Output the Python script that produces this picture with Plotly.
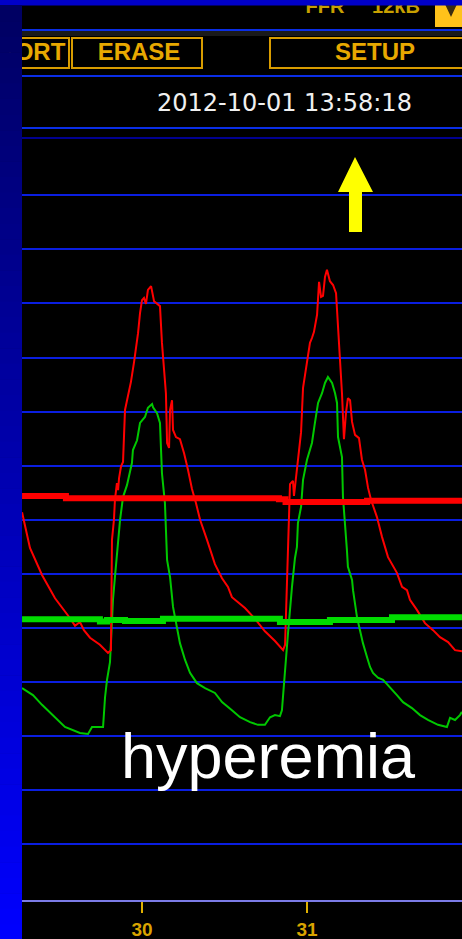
import plotly.graph_objects as go

# ---------------- data (time in s, pressure in mmHg) ----------------
t_pa = [29.273, 29.321, 29.394, 29.473, 29.564, 29.594, 29.624, 29.648, 29.685, 29.745,
        29.794, 29.812, 29.818, 29.830, 29.836, 29.842, 29.848, 29.855, 29.861, 29.873,
        29.885, 29.897, 29.915, 29.933, 29.952, 29.970, 29.976, 29.988, 30.000, 30.012,
        30.024, 30.036, 30.055, 30.073, 30.097, 30.109, 30.121, 30.133, 30.145, 30.152,
        30.164, 30.170, 30.182, 30.188, 30.206, 30.230, 30.255, 30.279, 30.303, 30.327,
        30.352, 30.394, 30.442, 30.485, 30.521, 30.545, 30.582, 30.624, 30.685, 30.745,
        30.806, 30.855, 30.867, 30.879, 30.891, 30.897, 30.909, 30.915, 30.921, 30.933,
        30.939, 30.964, 30.976, 31.000, 31.018, 31.030, 31.042, 31.061, 31.067, 31.073,
        31.085, 31.097, 31.109, 31.121, 31.139, 31.158, 31.176, 31.188, 31.200, 31.212,
        31.224, 31.236, 31.248, 31.261, 31.273, 31.291, 31.315, 31.333, 31.352, 31.370,
        31.388, 31.424, 31.455, 31.491, 31.545, 31.576, 31.606, 31.624, 31.667, 31.715,
        31.764, 31.806, 31.855, 31.897, 31.939]
pa = [71.4, 64.8, 59.8, 55.5, 51.8, 50.4, 51.1, 49.6, 48.2, 46.9,
      45.4, 45.9, 66.3, 70.0, 73.7, 75.9, 76.8, 75.5, 77.7, 79.9,
      80.7, 90.3, 93.1, 95.5, 99.2, 102.9, 104.5, 108.2, 110.6, 111.0,
      109.9, 112.5, 113.2, 110.4, 109.9, 109.5, 102.7, 98.2, 93.4, 84.2,
      83.3, 90.3, 92.1, 86.6, 85.3, 84.9, 82.3, 79.2, 75.7, 73.1,
      70.0, 66.3, 61.8, 59.2, 57.6, 55.7, 54.8, 53.7, 51.7, 49.4,
      47.6, 45.9, 46.9, 57.6, 71.8, 76.6, 77.0, 77.2, 74.4, 77.4,
      79.8, 86.2, 94.4, 99.5, 102.7, 103.6, 104.7, 107.9, 111.9, 114.0,
      111.2, 111.4, 114.9, 116.2, 114.1, 113.4, 111.9, 105.8, 100.8, 93.4,
      84.9, 89.7, 92.5, 92.1, 88.1, 85.7, 85.1, 81.1, 79.2, 75.9,
      73.7, 70.5, 66.8, 63.1, 60.2, 57.6, 57.0, 55.2, 53.3, 50.9,
      49.6, 48.3, 47.4, 45.9, 45.7]

t_pd = [29.273, 29.339, 29.394, 29.473, 29.533, 29.624, 29.673, 29.697, 29.764, 29.776,
        29.788, 29.806, 29.824, 29.836, 29.848, 29.867, 29.885, 29.909, 29.939, 29.945,
        29.970, 29.988, 30.018, 30.036, 30.061, 30.067, 30.091, 30.109, 30.121, 30.127,
        30.139, 30.152, 30.170, 30.188, 30.212, 30.230, 30.261, 30.291, 30.333, 30.382,
        30.442, 30.485, 30.545, 30.594, 30.655, 30.703, 30.745, 30.776, 30.806, 30.836,
        30.848, 30.861, 30.873, 30.885, 30.909, 30.927, 30.939, 30.945, 30.964, 30.976,
        31.000, 31.030, 31.048, 31.067, 31.091, 31.109, 31.127, 31.152, 31.170, 31.182,
        31.188, 31.212, 31.218, 31.230, 31.242, 31.248, 31.273, 31.279, 31.291, 31.303,
        31.321, 31.339, 31.364, 31.382, 31.400, 31.430, 31.461, 31.503, 31.545, 31.582,
        31.636, 31.685, 31.733, 31.794, 31.848, 31.867, 31.897, 31.927, 31.939]
pd_ = [38.9, 37.6, 35.8, 33.5, 31.7, 30.6, 30.4, 31.7, 31.7, 37.2,
       40.4, 43.7, 55.2, 59.4, 63.9, 70.0, 74.2, 76.4, 80.5, 82.9,
       84.7, 87.9, 89.0, 90.7, 91.4, 90.8, 89.7, 87.9, 78.6, 76.8,
       73.1, 62.6, 59.4, 53.9, 50.2, 47.2, 44.1, 41.7, 39.8, 38.9,
       38.0, 36.3, 34.8, 33.5, 32.6, 32.1, 32.1, 33.5, 33.9, 33.7,
       34.8, 40.4, 44.6, 49.1, 57.6, 62.9, 65.0, 69.4, 72.4, 77.4,
       81.1, 84.2, 87.9, 91.6, 93.4, 95.3, 96.4, 95.3, 93.4, 91.6,
       85.3, 81.6, 74.2, 70.0, 64.4, 61.3, 58.9, 57.0, 54.6, 52.0,
       49.6, 47.2, 44.6, 42.8, 41.7, 40.8, 40.4, 38.9, 37.6, 36.3,
       35.2, 33.9, 33.0, 32.1, 31.7, 33.4, 33.0, 33.9, 34.5]

t_pa_mean = [29.273, 29.539, 30.830, 30.870, 31.364, 31.939]
pa_mean = [74.4, 74.0, 73.8, 73.3, 73.5, 73.5]

t_pd_mean = [29.273, 29.745, 29.788, 29.897, 30.127, 30.836, 31.139, 31.515, 31.939]
pd_mean = [51.6, 51.2, 51.5, 51.3, 51.7, 51.1, 51.5, 52.0, 52.0]

tick_vals = [30, 31]
tick_text = ["30", "31"]
grid_vals = [10, 20, 30, 40, 50, 60, 70, 80, 90, 100, 110, 120, 130]

# ---------------- geometry helpers (decorations only) ----------------
W, H = 462, 939
ML, MB = 22, 39
PW, PH = W - ML, H - MB


def X(px):  # pixel -> paper x
    return (px - ML) / PW


def Y(py):  # pixel -> paper y
    return (PH - py) / PH


# axis scale: 165 px per second (30 s at px 142), 5.41 px per mmHg (0 at py 898.5)
def T(px):
    return 30 + (px - 142) / 165.0


def V(py):
    return (898.5 - py) / 5.41


fig = go.Figure()

# thin waveforms
fig.add_trace(go.Scatter(x=t_pd, y=pd_, mode="lines", line=dict(color="#00c800", width=2),
                         hoverinfo="skip", showlegend=False))
fig.add_trace(go.Scatter(x=t_pa, y=pa, mode="lines", line=dict(color="#ff0000", width=2),
                         hoverinfo="skip", showlegend=False))
# thick mean lines
fig.add_trace(go.Scatter(x=t_pd_mean, y=pd_mean, mode="lines", line=dict(color="#00dc00", width=6, shape="hv"),
                         hoverinfo="skip", showlegend=False))
fig.add_trace(go.Scatter(x=t_pa_mean, y=pa_mean, mode="lines", line=dict(color="#ff0000", width=6, shape="hv"),
                         hoverinfo="skip", showlegend=False))

# header texts that get clipped (scatter text is clipped by the plot area / covered by shapes)
fig.add_trace(go.Scatter(x=[T(325), T(396)], y=[V(8), V(8)], mode="text", text=["FFR", "12kB"],
                         textposition="middle center",
                         textfont=dict(family="Liberation Sans", size=20, color="#c8a000", weight="bold"),
                         hoverinfo="skip", showlegend=False, cliponaxis=True))
fig.add_trace(go.Scatter(x=[T(40), T(139), T(375)], y=[V(54), V(54), V(54)], mode="text",
                         text=["ORT", "ERASE", "SETUP"], textposition="middle center",
                         textfont=dict(family="Liberation Sans", size=24, color="#e8a800", weight="bold"),
                         hoverinfo="skip", showlegend=False, cliponaxis=True))

shapes = []
# header lines
shapes.append(dict(type="rect", xref="paper", yref="paper", x0=X(22), x1=X(470), y0=Y(36), y1=Y(31),
                   fillcolor="#1a1a1a", line=dict(width=0), layer="below"))
for py, col in [(30, "#0a2ee6"), (76, "#0a2ee6"), (128, "#0a2ee6"), (138, "#000090")]:
    shapes.append(dict(type="line", xref="paper", yref="paper", x0=X(22), x1=X(470), y0=Y(py), y1=Y(py),
                       line=dict(color=col, width=2), layer="below"))
# button boxes
for x0, x1 in [(10, 69), (72, 202), (270, 480)]:
    shapes.append(dict(type="rect", xref="paper", yref="paper", x0=X(x0), x1=X(x1), y0=Y(68), y1=Y(38),
                       line=dict(color="#d89c00", width=2), fillcolor="rgba(0,0,0,0)", layer="below"))
# yellow menu box top right
shapes.append(dict(type="rect", xref="paper", yref="paper", x0=X(435), x1=X(470), y0=Y(27), y1=Y(4),
                   fillcolor="#ffc21a", line=dict(width=0), layer="above"))
shapes.append(dict(type="path", xref="paper", yref="paper",
                   path=f"M {X(444)},{Y(2)} L {X(458)},{Y(2)} L {X(451)},{Y(17)} Z",
                   fillcolor="#3a2c10", line=dict(width=0), layer="above"))
# top blue strip
shapes.append(dict(type="rect", xref="paper", yref="paper", x0=X(-5), x1=X(470), y0=Y(5.5), y1=Y(-2),
                   fillcolor="#0000c8", line=dict(width=0), layer="above"))
# left gradient bar
n = 60
y_top, y_bot = 5.5, 940
for i in range(n):
    a = y_top + (y_bot - y_top) * i / n
    b = y_top + (y_bot - y_top) * (i + 1) / n + 0.6
    f = (i + 0.5) / n
    blue = int(0x62 + (0xff - 0x62) * f)
    shapes.append(dict(type="rect", xref="paper", yref="paper", x0=X(-2), x1=X(22), y0=Y(b), y1=Y(a),
                       fillcolor=f"rgb(0,0,{blue})", line=dict(width=0), layer="above"))
# yellow arrow
pts = [(355, 157), (373, 192), (362, 192), (362, 232), (349, 232), (349, 192), (338, 192)]
path = "M " + " L ".join(f"{X(px)},{Y(py)}" for px, py in pts) + " Z"
shapes.append(dict(type="path", xref="paper", yref="paper", path=path,
                   fillcolor="#ffff00", line=dict(width=0), layer="above"))

annotations = [
    dict(text="2012-10-01 13:58:18", xref="paper", yref="paper", x=X(284.5), y=Y(103),
         xanchor="center", yanchor="middle", showarrow=False,
         font=dict(family="DejaVu Sans", size=24, color="#f0f0f0")),
    dict(text="hyperemia", xref="paper", yref="paper", x=X(268), y=Y(756),
         xanchor="center", yanchor="middle", showarrow=False,
         font=dict(family="Liberation Sans", size=63, color="#ffffff")),
]

fig.update_layout(
    width=W, height=H,
    margin=dict(l=ML, r=0, t=0, b=MB, pad=0),
    paper_bgcolor="#000000", plot_bgcolor="#000000",
    shapes=shapes, annotations=annotations,
    showlegend=False,
    xaxis=dict(range=[T(22), T(462)], tickvals=tick_vals,
               ticktext=[f"<b>{s}</b>" for s in tick_text],
               ticks="outside", ticklen=11, tickwidth=2, tickcolor="#e0b000",
               tickfont=dict(family="Liberation Sans", size=19, color="#d9a400"),
               showgrid=False, zeroline=False, showline=True, linecolor="#7b7be6", linewidth=2,
               fixedrange=True),
    yaxis=dict(range=[V(900), V(0)], tickvals=grid_vals, showticklabels=False, ticks="",
               showgrid=True, gridcolor="#0a1ee0", gridwidth=2, zeroline=False, showline=False,
               fixedrange=True),
)

fig.write_html("out.html", config={"displayModeBar": False})
